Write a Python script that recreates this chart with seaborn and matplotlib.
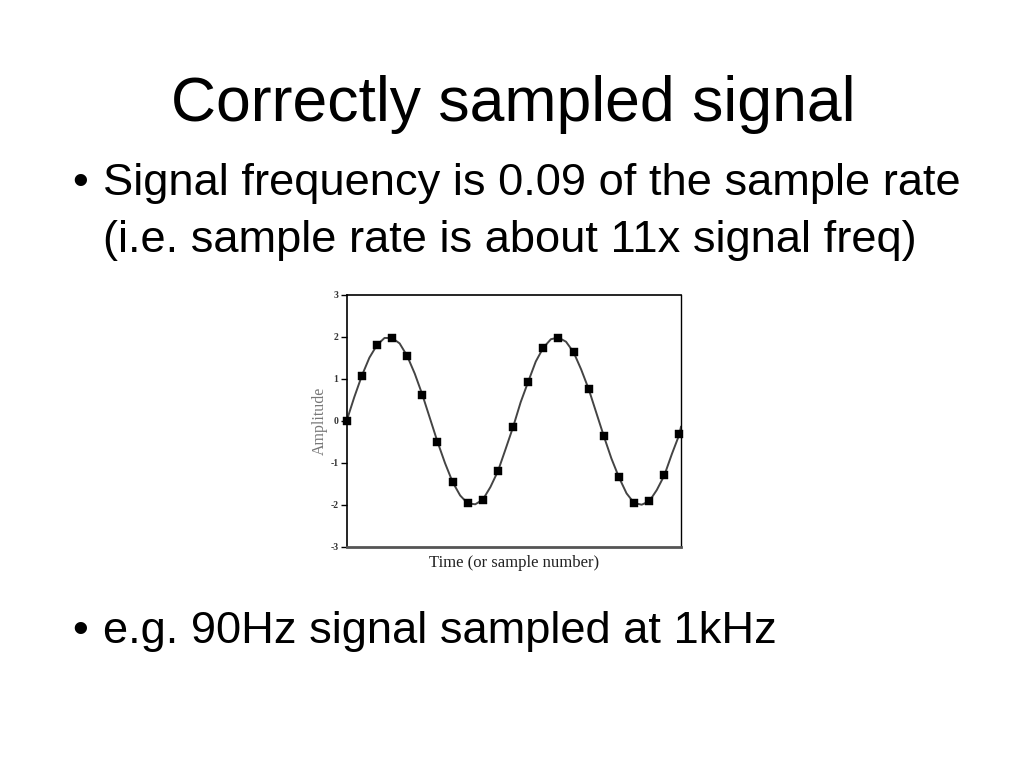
import matplotlib
matplotlib.use("Agg")
import matplotlib.pyplot as plt
import seaborn as sns
import pandas as pd

# Sampled signal (sample number -> amplitude)
sample_n = list(range(23))
sample_amp = [0.0, 1.07, 1.80, 1.97, 1.54, 0.62, -0.50, -1.46, -1.97, -1.88, -1.20,
              -0.15, 0.93, 1.74, 1.98, 1.63, 0.75, -0.37, -1.35, -1.96, -1.92, -1.30, -0.32]

# Continuous signal traced at half-sample steps
curve_t = [0, 0.5, 1, 1.5, 2, 2.5, 3, 3.5, 4, 4.5, 5, 5.5, 6, 6.5, 7, 7.5, 8, 8.5, 9, 9.5,
           10, 10.5, 11, 11.5, 12, 12.5, 13, 13.5, 14, 14.5, 15, 15.5, 16, 16.5, 17, 17.5,
           18, 18.5, 19, 19.5, 20, 20.5, 21, 21.5, 22, 22.1]
curve_amp = [0.0, 0.56, 1.07, 1.50, 1.80, 1.97, 1.97, 1.84, 1.54, 1.12, 0.62, 0.06, -0.50,
             -1.01, -1.46, -1.78, -1.97, -1.99, -1.88, -1.58, -1.20, -0.68, -0.15, 0.44,
             0.93, 1.41, 1.74, 1.94, 1.98, 1.88, 1.63, 1.22, 0.75, 0.19, -0.37, -0.90,
             -1.35, -1.73, -1.96, -2.00, -1.92, -1.65, -1.30, -0.79, -0.32, -0.14]

y_ticks = [-3, -2, -1, 0, 1, 2, 3]

title = "Correctly sampled signal"
bullet1 = ["Signal frequency is 0.09 of the sample rate",
           "(i.e. sample rate is about 11x signal freq)"]
bullet2 = "e.g. 90Hz signal sampled at 1kHz"

sns.set_style("white")
plt.rcParams['font.family'] = ['Liberation Sans', 'DejaVu Sans']

W, H = 1024, 768
fig = plt.figure(figsize=(W / 100, H / 100), dpi=100)
fig.patch.set_facecolor("white")

def px(x, y):
    return x / W, 1 - y / H

# Slide text
fig.text(*px(513, 121), title, ha="center", va="baseline", fontsize=45, color="black")
fig.text(*px(72, 195), "•", ha="left", va="baseline", fontsize=32.6, color="black")
fig.text(*px(103, 195), bullet1[0], ha="left", va="baseline", fontsize=32.6, color="black")
fig.text(*px(103, 252), bullet1[1], ha="left", va="baseline", fontsize=32.6, color="black")
fig.text(*px(72, 643), "•", ha="left", va="baseline", fontsize=32.6, color="black")
fig.text(*px(103, 643), bullet2, ha="left", va="baseline", fontsize=32.6, color="black")

# Chart
left, right, top, bottom = 346.7, 681.0, 294.7, 546.7
ax = fig.add_axes([left / W, 1 - bottom / H, (right - left) / W, (bottom - top) / H])

df_curve = pd.DataFrame({"t": curve_t, "amp": curve_amp})
df_samp = pd.DataFrame({"n": sample_n, "amp": sample_amp})

sns.lineplot(data=df_curve, x="t", y="amp", ax=ax, color="#444444", linewidth=1.4,
             estimator=None, sort=False)
sns.scatterplot(data=df_samp, x="n", y="amp", ax=ax, marker="s", s=34, color="black",
                edgecolor="black", linewidth=0.3, zorder=3, clip_on=False)

ax.set_xlim(0, 22.1)
ax.set_ylim(-3, 3)
ax.set_xticks([])
ax.set_yticks(y_ticks)
ax.set_yticklabels([str(v) for v in y_ticks], family="Liberation Serif", fontsize=7,
                   color="#333333", fontweight="bold")
ax.tick_params(axis="y", direction="out", length=4, width=1, color="black", pad=2,
               left=True)
ax.set_xlabel("Time (or sample number)", family="Liberation Serif", fontsize=12,
              color="#222222", labelpad=6)
ax.set_ylabel("Amplitude", family="Liberation Serif", fontsize=11.5, color="#777777",
              labelpad=2)

for side, sp in ax.spines.items():
    sp.set_visible(True)
    sp.set_color("black")
    sp.set_linewidth(1.2)
ax.spines["bottom"].set_color("#555555")
ax.spines["bottom"].set_linewidth(2)
ax.spines["right"].set_linewidth(1.0)
ax.set_facecolor("white")

fig.savefig("out.png", dpi=100, facecolor="white")
